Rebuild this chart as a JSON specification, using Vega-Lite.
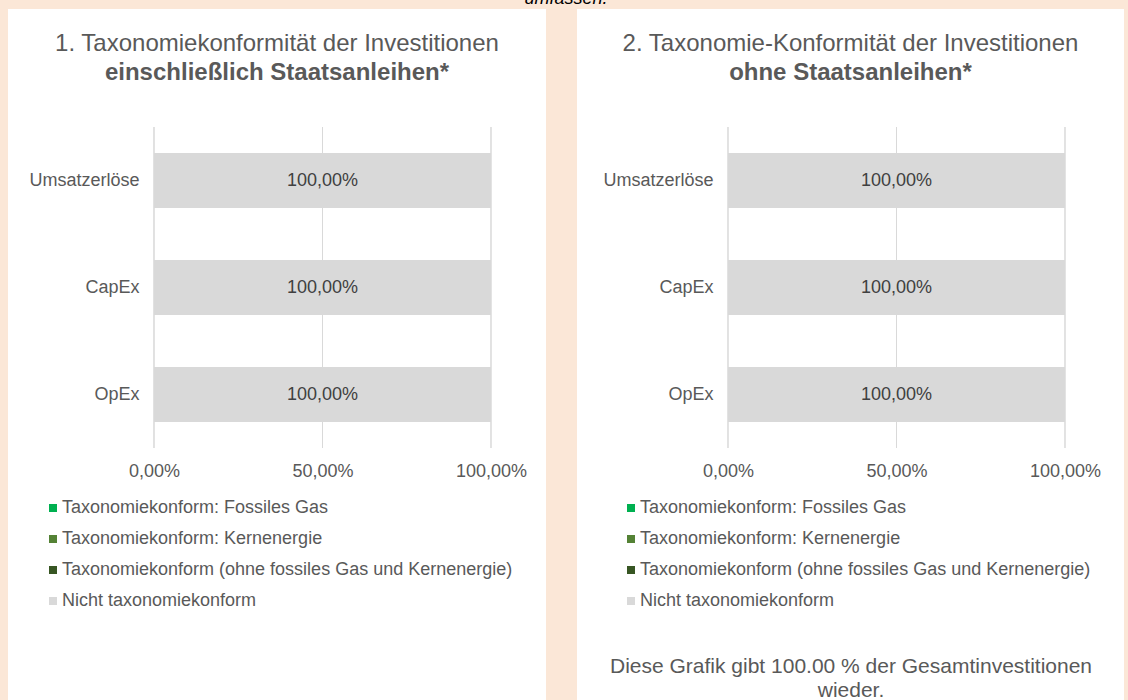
{
  "$schema": "https://vega.github.io/schema/vega-lite/v6.json",
  "background": "#fbe7d7",
  "padding": {"left": 8, "top": -10, "right": 4, "bottom": 0},
  "title": {"text": "umfassen.", "fontSize": 18, "fontStyle": "italic", "fontWeight": "normal", "color": "#000000", "font": "Liberation Sans", "offset": 1, "anchor": "middle"},
  "datasets": {
    "werte": [
      {"Panel": 1, "Kennzahl": "Umsatzerlöse", "Kategorie": "Taxonomiekonform: Fossiles Gas", "Wert": 0},
      {"Panel": 1, "Kennzahl": "Umsatzerlöse", "Kategorie": "Taxonomiekonform: Kernenergie", "Wert": 0},
      {"Panel": 1, "Kennzahl": "Umsatzerlöse", "Kategorie": "Taxonomiekonform (ohne fossiles Gas und Kernenergie)", "Wert": 0},
      {"Panel": 1, "Kennzahl": "Umsatzerlöse", "Kategorie": "Nicht taxonomiekonform", "Wert": 1},
      {"Panel": 1, "Kennzahl": "CapEx", "Kategorie": "Taxonomiekonform: Fossiles Gas", "Wert": 0},
      {"Panel": 1, "Kennzahl": "CapEx", "Kategorie": "Taxonomiekonform: Kernenergie", "Wert": 0},
      {"Panel": 1, "Kennzahl": "CapEx", "Kategorie": "Taxonomiekonform (ohne fossiles Gas und Kernenergie)", "Wert": 0},
      {"Panel": 1, "Kennzahl": "CapEx", "Kategorie": "Nicht taxonomiekonform", "Wert": 1},
      {"Panel": 1, "Kennzahl": "OpEx", "Kategorie": "Taxonomiekonform: Fossiles Gas", "Wert": 0},
      {"Panel": 1, "Kennzahl": "OpEx", "Kategorie": "Taxonomiekonform: Kernenergie", "Wert": 0},
      {"Panel": 1, "Kennzahl": "OpEx", "Kategorie": "Taxonomiekonform (ohne fossiles Gas und Kernenergie)", "Wert": 0},
      {"Panel": 1, "Kennzahl": "OpEx", "Kategorie": "Nicht taxonomiekonform", "Wert": 1},
      {"Panel": 2, "Kennzahl": "Umsatzerlöse", "Kategorie": "Taxonomiekonform: Fossiles Gas", "Wert": 0},
      {"Panel": 2, "Kennzahl": "Umsatzerlöse", "Kategorie": "Taxonomiekonform: Kernenergie", "Wert": 0},
      {"Panel": 2, "Kennzahl": "Umsatzerlöse", "Kategorie": "Taxonomiekonform (ohne fossiles Gas und Kernenergie)", "Wert": 0},
      {"Panel": 2, "Kennzahl": "Umsatzerlöse", "Kategorie": "Nicht taxonomiekonform", "Wert": 1},
      {"Panel": 2, "Kennzahl": "CapEx", "Kategorie": "Taxonomiekonform: Fossiles Gas", "Wert": 0},
      {"Panel": 2, "Kennzahl": "CapEx", "Kategorie": "Taxonomiekonform: Kernenergie", "Wert": 0},
      {"Panel": 2, "Kennzahl": "CapEx", "Kategorie": "Taxonomiekonform (ohne fossiles Gas und Kernenergie)", "Wert": 0},
      {"Panel": 2, "Kennzahl": "CapEx", "Kategorie": "Nicht taxonomiekonform", "Wert": 1},
      {"Panel": 2, "Kennzahl": "OpEx", "Kategorie": "Taxonomiekonform: Fossiles Gas", "Wert": 0},
      {"Panel": 2, "Kennzahl": "OpEx", "Kategorie": "Taxonomiekonform: Kernenergie", "Wert": 0},
      {"Panel": 2, "Kennzahl": "OpEx", "Kategorie": "Taxonomiekonform (ohne fossiles Gas und Kernenergie)", "Wert": 0},
      {"Panel": 2, "Kennzahl": "OpEx", "Kategorie": "Nicht taxonomiekonform", "Wert": 1}
    ],
    "gitter": [
      {"Kennzahl": "Umsatzerlöse", "Wert": 0},
      {"Kennzahl": "Umsatzerlöse", "Wert": 0.5},
      {"Kennzahl": "Umsatzerlöse", "Wert": 1},
      {"Kennzahl": "CapEx", "Wert": 0},
      {"Kennzahl": "CapEx", "Wert": 0.5},
      {"Kennzahl": "CapEx", "Wert": 1},
      {"Kennzahl": "OpEx", "Wert": 0},
      {"Kennzahl": "OpEx", "Wert": 0.5},
      {"Kennzahl": "OpEx", "Wert": 1}
    ]
  },
  "spacing": 31,
  "resolve": {"scale": {"color": "independent"}, "legend": {"color": "independent"}},
  "hconcat": [
    {
      "width": 538,
      "height": 691,
      "title": {"text": "1. Taxonomiekonformität der Investitionen", "subtitle": "einschließlich Staatsanleihen*", "fontSize": 24, "fontWeight": "normal", "color": "#595959", "font": "Liberation Sans", "subtitleFont": "Liberation Sans", "subtitleFontSize": 24, "subtitleFontWeight": "bold", "subtitleColor": "#595959", "subtitlePadding": 5, "offset": -76, "anchor": "middle", "frame": "group"},
      "layer": [
        {
          "data": {"name": "gitter"},
          "mark": {"type": "rect", "filled": false, "stroke": "#d9d9d9", "strokeWidth": 1},
          "encoding": {
            "x": {"field": "Wert", "type": "quantitative", "scale": {"domain": [-0.43323, 1.1632], "nice": false, "zero": false},
                  "axis": {"values": [0, 0.5, 1], "format": ".2%", "grid": false, "ticks": false, "domain": false, "labelPadding": 0, "offset": -238, "title": null, "labelFontSize": 18, "labelColor": "#595959"}},
            "x2": {"field": "Wert"},
            "y": {"field": "Kennzahl", "type": "nominal", "sort": ["Umsatzerlöse", "CapEx", "OpEx"], "scale": {"range": [118, 439], "paddingInner": 0, "paddingOuter": 0}, "axis": null}
          }
        },
        {
          "data": {"name": "werte"},
          "transform": [{"filter": "datum.Panel == 1"}],
          "layer": [
            {
              "mark": {"type": "bar"},
              "encoding": {
                "x": {"field": "Wert", "type": "quantitative", "stack": "zero", "scale": {"domain": [-0.43323, 1.1632], "nice": false, "zero": false},
                      "axis": {"values": [0, 0.5, 1], "format": ".2%", "grid": false, "ticks": false, "domain": false, "labelPadding": 0, "offset": -238, "title": null, "labelFontSize": 18, "labelColor": "#595959"}},
                "y": {"field": "Kennzahl", "type": "nominal", "sort": ["Umsatzerlöse", "CapEx", "OpEx"], "scale": {"range": [118, 439], "paddingInner": 0.486, "paddingOuter": 0.243},
                      "axis": {"orient": "left", "title": null, "ticks": false, "domain": false, "labelPadding": 0, "offset": -131, "labelFontSize": 18, "labelColor": "#595959"}},
                "color": {"field": "Kategorie", "type": "nominal",
                          "scale": {"domain": ["Taxonomiekonform: Fossiles Gas", "Taxonomiekonform: Kernenergie", "Taxonomiekonform (ohne fossiles Gas und Kernenergie)", "Nicht taxonomiekonform"], "range": ["#00b050", "#548235", "#375623", "#d9d9d9"]},
                          "legend": {"orient": "none", "legendX": 36, "legendY": 490, "title": null, "symbolType": "square", "symbolSize": 64, "symbolStrokeWidth": 0, "labelFontSize": 18, "labelColor": "#595959", "labelFont": "Liberation Sans", "rowPadding": 13, "labelOffset": 0, "padding": 0, "labelLimit": 600, "direction": "vertical"}}
              }
            },
            {
              "transform": [{"filter": "datum.Wert > 0"}],
              "mark": {"type": "text", "fontSize": 18, "color": "#404040", "font": "Liberation Sans"},
              "encoding": {
                "x": {"field": "Wert", "type": "quantitative", "stack": "zero", "bandPosition": 0.5},
                "y": {"field": "Kennzahl", "type": "nominal", "sort": ["Umsatzerlöse", "CapEx", "OpEx"]},
                "detail": {"field": "Kategorie", "type": "nominal"},
                "text": {"field": "Wert", "type": "quantitative", "format": ".2%"}
              }
            }
          ]
        }
      ],
      "resolve": {"scale": {"y": "independent"}}
    },
    {
      "width": 547,
      "height": 691,
      "title": {"text": "2. Taxonomie-Konformität der Investitionen", "subtitle": "ohne Staatsanleihen*", "fontSize": 24, "fontWeight": "normal", "color": "#595959", "font": "Liberation Sans", "subtitleFont": "Liberation Sans", "subtitleFontSize": 24, "subtitleFontWeight": "bold", "subtitleColor": "#595959", "subtitlePadding": 5, "offset": -76, "anchor": "middle", "frame": "group"},
      "layer": [
        {
          "data": {"name": "gitter"},
          "mark": {"type": "rect", "filled": false, "stroke": "#d9d9d9", "strokeWidth": 1},
          "encoding": {
            "x": {"field": "Wert", "type": "quantitative", "scale": {"domain": [-0.44807, 1.17507], "nice": false, "zero": false},
                  "axis": {"values": [0, 0.5, 1], "format": ".2%", "grid": false, "ticks": false, "domain": false, "labelPadding": 0, "offset": -238, "labelFontSize": 18, "labelColor": "#595959",
                           "title": ["Diese Grafik gibt 100.00 % der Gesamtinvestitionen", "wieder."], "titleFontSize": 21, "titleFontWeight": "normal", "titleColor": "#595959", "titleFont": "Liberation Sans", "titleLineHeight": 24, "titlePadding": 175}},
            "x2": {"field": "Wert"},
            "y": {"field": "Kennzahl", "type": "nominal", "sort": ["Umsatzerlöse", "CapEx", "OpEx"], "scale": {"range": [118, 439], "paddingInner": 0, "paddingOuter": 0}, "axis": null}
          }
        },
        {
          "data": {"name": "werte"},
          "transform": [{"filter": "datum.Panel == 2"}],
          "layer": [
            {
              "mark": {"type": "bar"},
              "encoding": {
                "x": {"field": "Wert", "type": "quantitative", "stack": "zero", "scale": {"domain": [-0.44807, 1.17507], "nice": false, "zero": false},
                      "axis": {"values": [0, 0.5, 1], "format": ".2%", "grid": false, "ticks": false, "domain": false, "labelPadding": 0, "offset": -238, "labelFontSize": 18, "labelColor": "#595959",
                               "title": ["Diese Grafik gibt 100.00 % der Gesamtinvestitionen", "wieder."], "titleFontSize": 21, "titleFontWeight": "normal", "titleColor": "#595959", "titleFont": "Liberation Sans", "titleLineHeight": 24, "titlePadding": 175}},
                "y": {"field": "Kennzahl", "type": "nominal", "sort": ["Umsatzerlöse", "CapEx", "OpEx"], "scale": {"range": [118, 439], "paddingInner": 0.486, "paddingOuter": 0.243},
                      "axis": {"orient": "left", "title": null, "ticks": false, "domain": false, "labelPadding": 0, "offset": -136, "labelFontSize": 18, "labelColor": "#595959"}},
                "color": {"field": "Kategorie", "type": "nominal",
                          "scale": {"domain": ["Taxonomiekonform: Fossiles Gas", "Taxonomiekonform: Kernenergie", "Taxonomiekonform (ohne fossiles Gas und Kernenergie)", "Nicht taxonomiekonform"], "range": ["#00b050", "#548235", "#375623", "#d9d9d9"]},
                          "legend": {"orient": "none", "legendX": 45, "legendY": 490, "title": null, "symbolType": "square", "symbolSize": 64, "symbolStrokeWidth": 0, "labelFontSize": 18, "labelColor": "#595959", "labelFont": "Liberation Sans", "rowPadding": 13, "labelOffset": 0, "padding": 0, "labelLimit": 600, "direction": "vertical"}}
              }
            },
            {
              "transform": [{"filter": "datum.Wert > 0"}],
              "mark": {"type": "text", "fontSize": 18, "color": "#404040", "font": "Liberation Sans"},
              "encoding": {
                "x": {"field": "Wert", "type": "quantitative", "stack": "zero", "bandPosition": 0.5},
                "y": {"field": "Kennzahl", "type": "nominal", "sort": ["Umsatzerlöse", "CapEx", "OpEx"]},
                "detail": {"field": "Kategorie", "type": "nominal"},
                "text": {"field": "Wert", "type": "quantitative", "format": ".2%"}
              }
            }
          ]
        }
      ],
      "resolve": {"scale": {"y": "independent"}}
    }
  ],
  "config": {
    "font": "Liberation Sans",
    "view": {"fill": "white", "stroke": null},
    "locale": {"number": {"decimal": ",", "thousands": ".", "grouping": [3], "currency": ["", " €"]}},
    "axis": {"labelFont": "Liberation Sans", "labelColor": "#595959", "labelFontSize": 18}
  }
}
